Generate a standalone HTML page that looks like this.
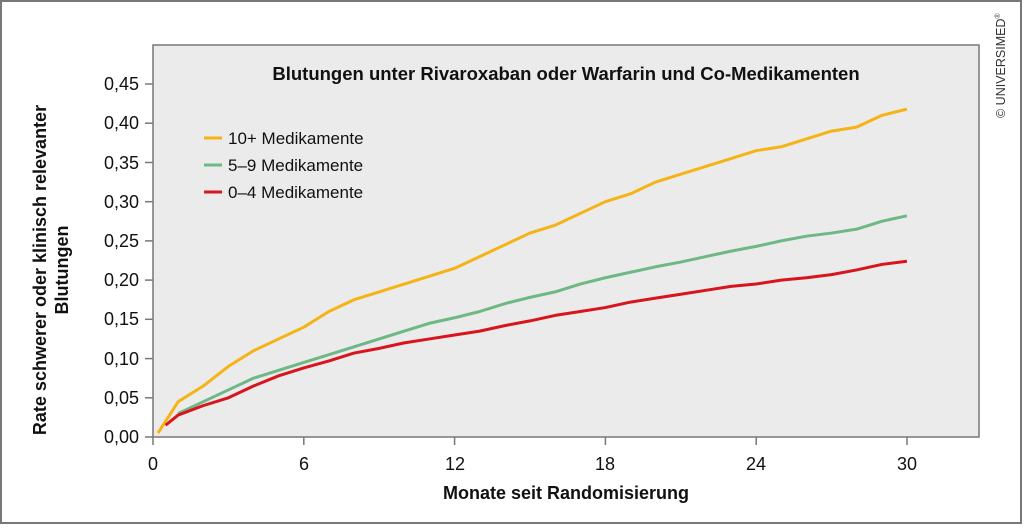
<!DOCTYPE html>
<html><head><meta charset="utf-8"><style>
body{margin:0;background:#fff;width:1024px;height:526px;overflow:hidden;font-family:"Liberation Sans",sans-serif}
</style></head><body>
<svg width="1024" height="526" xmlns="http://www.w3.org/2000/svg" font-family="Liberation Sans, sans-serif">
<rect x="1" y="1" width="1020" height="522" fill="#fff" stroke="#777" stroke-width="2"/>
<rect x="153" y="45" width="826" height="392" fill="#ebebeb" stroke="#777" stroke-width="1.5"/>
<g stroke="#777" stroke-width="1.5">
<line x1="145" y1="437" x2="153" y2="437"/><line x1="145" y1="397.8" x2="153" y2="397.8"/><line x1="145" y1="358.6" x2="153" y2="358.6"/><line x1="145" y1="319.3" x2="153" y2="319.3"/><line x1="145" y1="280.1" x2="153" y2="280.1"/><line x1="145" y1="240.9" x2="153" y2="240.9"/><line x1="145" y1="201.7" x2="153" y2="201.7"/><line x1="145" y1="162.5" x2="153" y2="162.5"/><line x1="145" y1="123.2" x2="153" y2="123.2"/><line x1="145" y1="84" x2="153" y2="84"/>
<line x1="153" y1="437" x2="153" y2="445"/><line x1="303.8" y1="437" x2="303.8" y2="445"/><line x1="454.6" y1="437" x2="454.6" y2="445"/><line x1="605.4" y1="437" x2="605.4" y2="445"/><line x1="756.2" y1="437" x2="756.2" y2="445"/><line x1="907" y1="437" x2="907" y2="445"/>
</g>
<g font-size="18" fill="#111" text-anchor="end">
<text x="139" y="443">0,00</text><text x="139" y="404">0,05</text><text x="139" y="365">0,10</text><text x="139" y="325">0,15</text><text x="139" y="286">0,20</text><text x="139" y="247">0,25</text><text x="139" y="208">0,30</text><text x="139" y="169">0,35</text><text x="139" y="129">0,40</text><text x="139" y="90">0,45</text>
</g>
<g font-size="18" fill="#111" text-anchor="middle">
<text x="153" y="470">0</text><text x="304" y="470">6</text><text x="455" y="470">12</text><text x="605" y="470">18</text><text x="756" y="470">24</text><text x="907" y="470">30</text>
</g>
<text x="566" y="499" font-size="18" font-weight="bold" text-anchor="middle" fill="#111">Monate seit Randomisierung</text>
<g transform="translate(52,270) rotate(-90)" font-size="18" font-weight="bold" fill="#111" text-anchor="middle">
<text x="0" y="-6">Rate schwerer oder klinisch relevanter</text>
<text x="0" y="16">Blutungen</text>
</g>
<text x="566" y="80" font-size="18.5" font-weight="bold" text-anchor="middle" fill="#111">Blutungen unter Rivaroxaban oder Warfarin und Co-Medikamenten</text>
<g font-size="17" fill="#111">
<line x1="204" y1="138" x2="222" y2="138" stroke="#f5b315" stroke-width="3"/><text x="228" y="144">10+ Medikamente</text>
<line x1="204" y1="165" x2="222" y2="165" stroke="#6db884" stroke-width="3"/><text x="228" y="171">5–9 Medikamente</text>
<line x1="204" y1="192" x2="222" y2="192" stroke="#d8141c" stroke-width="3"/><text x="228" y="198">0–4 Medikamente</text>
</g>
<text transform="translate(1005,118) rotate(-90)" font-size="12.5" fill="#333">© UNIVERSIMED<tspan font-size="7" dy="-5">®</tspan></text>
<g transform="translate(153,437) scale(25.13,-784.4)" fill="none" stroke-linejoin="round">
<polyline vector-effect="non-scaling-stroke" stroke="#f5b315" stroke-width="3" points="0.2,0.005 0.5,0.02 1,0.045 2,0.065 3,0.09 4,0.11 5,0.125 6,0.14 7,0.16 8,0.175 9,0.185 10,0.195 11,0.205 12,0.215 13,0.23 14,0.245 15,0.26 16,0.27 17,0.285 18,0.3 19,0.31 20,0.325 21,0.335 22,0.345 23,0.355 24,0.365 25,0.37 26,0.38 27,0.39 28,0.395 29,0.41 30,0.418"/>
<polyline vector-effect="non-scaling-stroke" stroke="#6db884" stroke-width="3" points="1,0.03 2,0.045 3,0.06 4,0.075 5,0.085 6,0.095 7,0.105 8,0.115 9,0.125 10,0.135 11,0.145 12,0.152 13,0.16 14,0.17 15,0.178 16,0.185 17,0.195 18,0.203 19,0.21 20,0.217 21,0.223 22,0.23 23,0.237 24,0.243 25,0.25 26,0.256 27,0.26 28,0.265 29,0.275 30,0.282"/>
<polyline vector-effect="non-scaling-stroke" stroke="#d8141c" stroke-width="3" points="0.5,0.015 1,0.028 2,0.04 3,0.05 4,0.065 5,0.078 6,0.088 7,0.097 8,0.107 9,0.113 10,0.12 11,0.125 12,0.13 13,0.135 14,0.142 15,0.148 16,0.155 17,0.16 18,0.165 19,0.172 20,0.177 21,0.182 22,0.187 23,0.192 24,0.195 25,0.2 26,0.203 27,0.207 28,0.213 29,0.22 30,0.224"/>
</g>
</svg>
</body></html>
